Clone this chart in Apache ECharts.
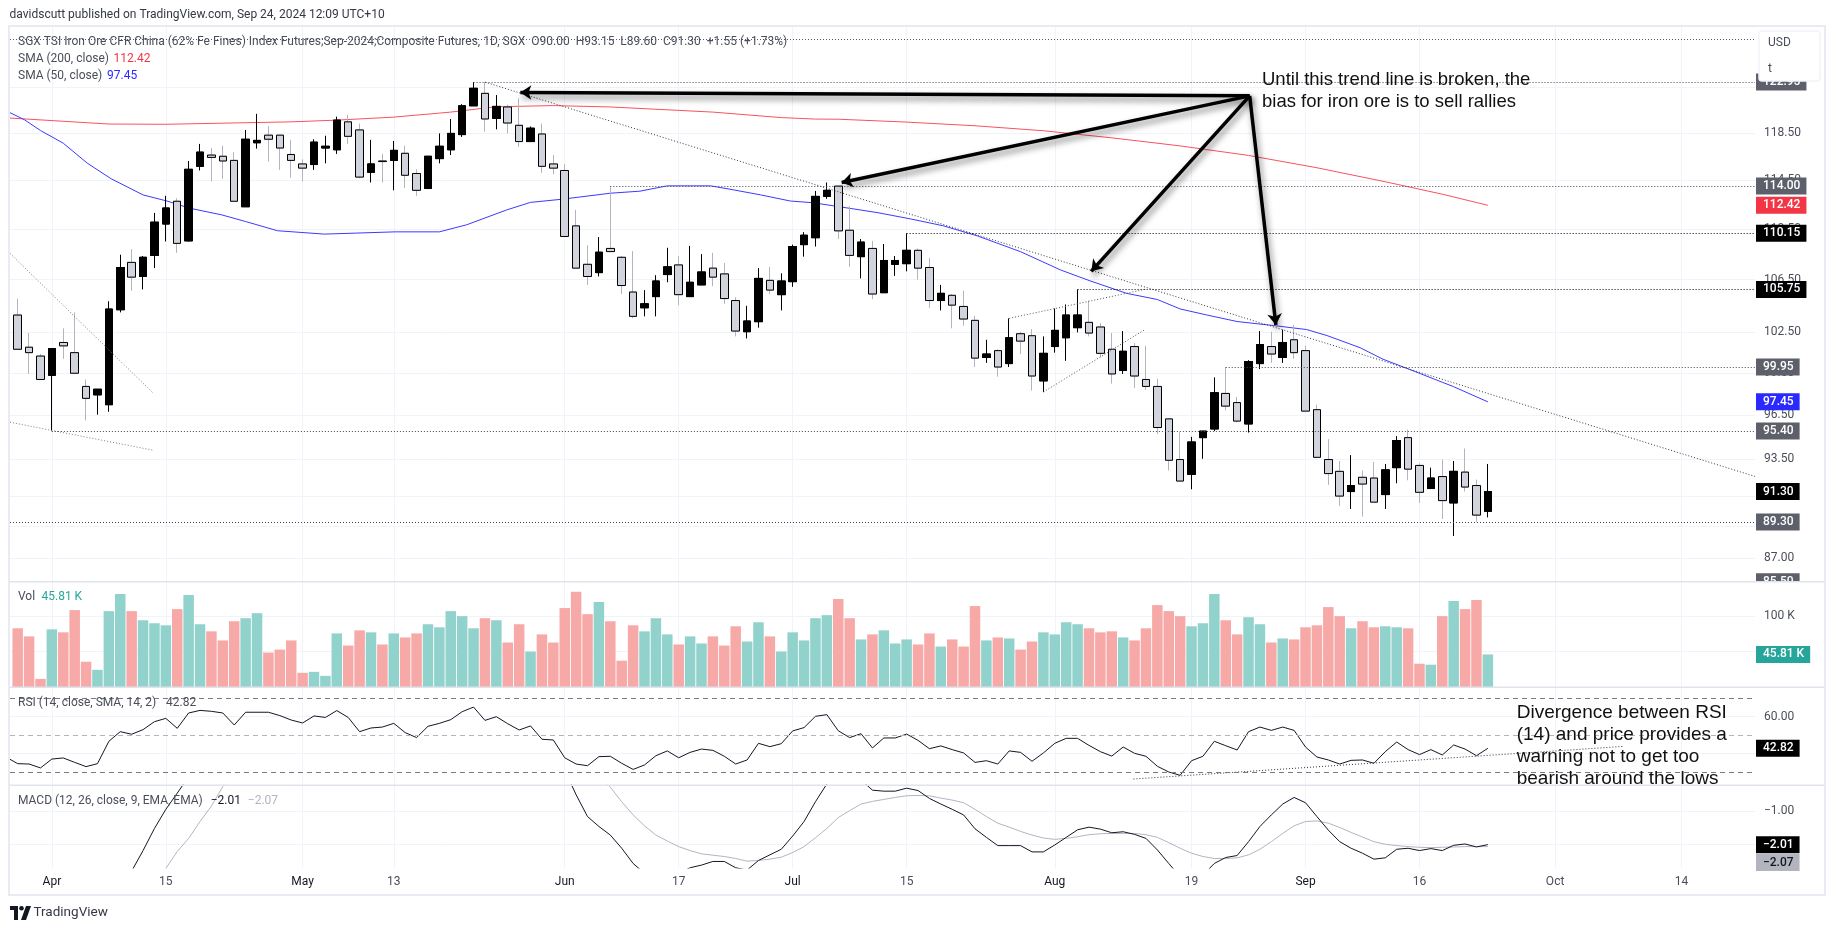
<!DOCTYPE html>
<html>
<head>
<meta charset="utf-8">
<title>SGX TSI Iron Ore</title>
<script src="https://cdn.jsdelivr.net/npm/echarts@6/dist/echarts.min.js"></script>
<style>
  html, body { margin: 0; height: 100%; background: #fff; }
  #chart { width: 1835px; height: 931px; }
</style>
</head>
<body>
<div id="chart"></div>
<script>
// daily bars, Mar 27 to Sep 24 2024
const opens = [
  103.8,101.4,100.75,99.35,101.75,101,98.55,97.95,97.25,104.2,
  107.85,106.75,108.4,110.9,112.75,109.55,115.65,116.6,116.5,116.15,
  112.3,117.65,118.3,118.3,116.65,115.85,115.8,117.2,117.05,119.45,
  118.75,115.15,116.1,116.15,116.75,115.05,113.8,116.3,117.05,118.35,
  120.85,121.95,119.75,120.75,119.15,117.75,118.4,115.85,115.3,110.75,
  107.7,107.05,108.95,108.25,105.55,104.35,105.2,106.9,107.65,105.2,
  106.1,107.4,106.95,104.9,102.55,103.3,106.45,105.35,106.35,109.25,
  109.8,113.15,114,110.4,108.3,108.95,105.5,107.7,107.75,108.8,
  107.45,104.9,105.3,104.45,103.4,100.65,101.15,100.2,102.4,102.25,
  98.95,101.45,102.1,102.85,103.25,102.9,101.25,99.7,101.45,99.05,
  98.55,96.25,93.45,92.45,94.95,95.55,98.05,97.4,95.9,100.2,
  101.45,100.65,101.95,101.15,96.9,93.45,92.65,91.3,92.25,92.2,
  91.1,92.9,94.95,93.05,91.5,92.3,90.55,92.6,91.7,90
];
const closes = [
  101.25,101,99.05,101.3,101.5,99.5,97.7,98.35,104.25,107.45,
  106.7,108.25,111.05,112.2,109.35,115.4,116.85,116.4,116.1,112.75,
  117.95,117.85,117.95,117.2,116.15,115.5,117.7,117.35,119.6,118.2,
  114.75,115.85,116.05,117,114.9,113.65,116.5,117.35,118.45,120.85,
  122.4,119.7,120.8,119.35,117.75,118.9,115.65,115.5,109.9,107.4,
  106.75,108.65,108.7,106.05,103.7,104.65,106.4,107.5,105.35,106.3,
  107.1,106.7,105.05,102.6,103.35,106.6,105.7,106.4,109.1,110,
  113.15,113.65,110.35,108.4,109.45,105.4,108,108,108.8,107.4,
  104.9,105.45,104.55,103.5,100.6,100.9,99.95,102.1,101.85,99.3,
  100.95,102.65,103.8,103.8,102.45,100.95,99.45,101.1,99.3,98.55,
  95.65,93.4,92,94.65,95.4,98.1,97.15,96.1,100.35,101.6,
  100.9,101.75,101,96.8,93.6,92.5,91,91.7,91.8,90.6,
  92.75,94.75,92.8,91.25,92.2,90.7,92.65,91.6,89.75,91.3
];
const lows = [
  101.25,99.45,99.05,95.4,100.55,99.5,96.15,96.55,96.75,104,
  105.65,105.75,107.4,109.5,108.6,109.5,115.3,114.4,114.6,112.75,
  112.3,117.15,116.05,115.35,114.7,114.4,115.35,115.9,116.7,117.55,
  114.65,114.3,114.3,113.65,113.85,113.2,113.75,115.9,116.6,118.15,
  120.85,118.6,118.8,118.45,117.3,117.75,115.1,115,109.9,107.4,
  106.1,106.75,108.7,105.4,103.55,103.7,103.7,106.3,104.55,105.2,
  106.1,106,104.65,102.2,102.05,102.85,105.4,104.15,105.95,108.3,
  109.1,112.95,109.7,107.5,106.6,105,105.5,106.8,107.15,106.5,
  104.35,104.15,102.8,103,99.95,100.25,99.25,99.95,100.9,98.25,
  98.15,101,100.4,102.5,102.2,100.65,98.75,99.45,98.45,98.3,
  95.2,92.7,92,91.45,93.5,95.4,96.85,96,95.3,99.8,
  100.25,100.25,100.55,96.8,93.6,91.75,90.35,90.15,89.65,90.6,
  90.15,91.85,92.05,90.55,91.5,89.5,88.4,91.3,89.3,89.6
];
const highs = [
  105.05,102.45,100.9,101.3,102.8,104,99.05,98.35,104.85,108.45,
  108.9,108.35,111.8,113.2,113,116.1,117.55,117.2,117.4,116.85,
  118.75,120.15,119.1,118.3,117.9,116.25,117.95,118.25,119.9,120.05,
  119.3,117.9,116.7,117.8,117.4,115.4,116.5,118.45,119.7,121,
  122.95,122.95,121.8,120.95,121.5,119.05,119.3,116.6,115.85,112.05,
  109.2,109.85,114,108.35,108.75,105.7,106.85,109,108.35,109.15,
  108.5,108.6,107.8,105.15,104.5,107.4,107.5,107,109.25,110.25,
  113.6,114.3,114,112.35,109.7,109.55,109.3,108.35,110.15,108.95,
  108.2,106.1,105.4,105.65,103.75,101.95,101.25,103.55,102.55,102.75,
  102.2,104.3,104.6,105.75,104.9,103.2,102.45,102.6,101.7,101.5,
  99.1,96.3,95.35,95,95.4,99.2,99.95,97.8,100.45,102.6,
  102.55,102.7,103.05,101.5,97.25,94.85,93.35,93.75,92.7,93.3,
  93.15,95.05,95.5,93.2,92.9,93.45,93.35,94.2,92.1,93.15
];
// volume in thousands
const volumes = [
  82.7,71.3,11.4,81.2,77,108.3,35.6,24.2,106.9,131.1,
  106.9,94,89.8,86.9,109.7,129.7,88.4,78.4,65.6,92.6,
  96.9,104,48.5,52.7,65.6,20,21.4,15.7,75.5,58.4,
  79.8,77,59.9,75.5,69.8,75.5,88.4,84.1,106.9,99.8,
  82.7,96.9,94,62.7,88.4,49.9,74.1,62.7,111.2,134,
  102.6,119.7,92.6,37.1,86.9,78.4,96.9,74.1,59.9,71.3,
  61.3,71.3,58.4,85.5,64.1,91.2,71.3,49.9,77,65.6,
  96.9,101.2,124,96.9,67,74.1,79.8,61.3,67,59.9,
  75.5,57,67,57,114,65.6,69.8,68.4,52.7,64.1,
  77,74.1,91.2,88.4,82.7,77,78.4,69.8,65.6,82.7,
  115.4,106.9,99.8,85.5,89.8,131.1,94,74.1,98.3,88.4,
  62.7,68.4,67,84.1,86.9,112.6,99.8,82.7,92.6,84.1,
  85.5,84.1,82.7,32.8,31.4,99.8,121.1,109.7,122.6,45.81
];
// rsi starts one bar before the first candle, the line runs in from the left edge
const rsiValues = [
  38,34.5,34.3,32.2,37,37.6,35.2,32.9,34.5,46.6,51.8,
  50.4,52.9,57.2,59,53.6,61.9,63.3,62.8,61.9,55.4,
  62.3,62.3,62.3,60.5,58.1,56.5,60.3,59.5,63.2,59.5,
  51.8,53.8,54.3,56.3,51.3,48.6,54.7,56.3,58.3,62.6,
  65.1,57.9,59.9,56.1,52.7,54.9,47.7,47.3,37.7,34.3,
  33.4,38.3,38.5,34.7,31.4,33.8,38.8,41.4,37.7,40.6,
  42.4,41.7,38.5,34.3,36.5,45.5,43.7,45.3,52.2,54,
  60.1,61,52.3,48.6,50.7,43,48.4,48.4,50.5,47.1,
  42.6,44.1,42.1,40.3,35.2,36.1,34.3,41.4,40.6,35.8,
  40.3,45.5,48.2,48.2,44.4,41,38.6,43.5,40.1,38.5,
  33.1,30,28.2,36.1,38.5,46.6,44.2,41.9,51.8,54.3,
  52.5,54.3,52.5,43.5,38.1,36.5,34.3,36.3,36.5,34.7,
  41,46.2,42.1,39.4,42.1,39.2,44.6,42.4,38.8,42.82
];
// macd runs out of its pane, null where it cannot be read
const macdValues = [
  null,null,null,null,null,null,null,null,null,-3.43,
  -2.81,-2.19,-1.52,-0.94,-0.45,0.05,0.5,null,null,null,
  null,null,null,null,null,null,null,null,null,null,
  null,null,null,null,null,null,null,null,null,null,
  null,null,null,null,null,null,null,null,0.25,-0.5,
  -1.16,-1.46,-1.72,-2.12,-2.58,-2.88,null,null,-2.88,-2.71,
  -2.63,-2.52,-2.52,-2.71,-2.78,-2.49,-2.32,-2.15,-1.75,-1.31,
  -0.71,-0.17,null,null,-0.05,-0.36,-0.39,-0.39,-0.3,-0.37,
  -0.61,-0.78,-0.94,-1.11,-1.53,-1.79,-2.04,-2.04,-2.04,-2.23,
  -2.23,-2.02,-1.79,-1.56,-1.48,-1.54,-1.65,-1.62,-1.7,-1.82,
  -2.17,-2.58,-2.98,null,-2.93,-2.58,-2.4,-2.34,-1.92,-1.46,
  -1.11,-0.78,-0.58,-0.74,-1.16,-1.57,-1.92,-2.12,-2.27,-2.45,
  -2.41,-2.15,-2.12,-2.19,-2.13,-2.19,-2.03,-1.99,-2.08,-2.01
];
const signalValues = [
  null,null,null,null,null,null,null,null,null,null,
  null,null,null,-2.73,-2.22,-1.82,-1.31,-0.84,-0.25,0.3,
  null,null,null,null,null,null,null,null,null,null,
  null,null,null,null,null,null,null,null,null,null,
  null,null,null,null,null,null,null,null,null,null,
  null,0.1,-0.27,-0.71,-1.11,-1.44,-1.72,-1.9,-2.07,-2.19,
  -2.29,-2.33,-2.37,-2.43,-2.51,-2.49,-2.45,-2.39,-2.25,-2.07,
  -1.8,-1.52,-1.19,-0.98,-0.78,-0.7,-0.64,-0.58,-0.53,-0.52,
  -0.53,-0.6,-0.66,-0.74,-0.94,-1.16,-1.36,-1.48,-1.61,-1.72,
  -1.81,-1.85,-1.82,-1.77,-1.71,-1.68,-1.67,-1.67,-1.67,-1.71,
  -1.79,-1.95,-2.12,-2.27,-2.37,-2.43,-2.43,-2.41,-2.32,-2.15,
  -1.92,-1.67,-1.44,-1.31,-1.29,-1.36,-1.49,-1.64,-1.78,-1.92,
  -2,-2.04,-2.07,-2.09,-2.1,-2.09,-2.08,-2.07,-2.07,-2.07
];
// moving averages, [bar, price] read at the bends of each curve
const sma200 = [
  [-1,119.8],[8,119.26],[13,119.24],[24,119.45],[28,119.6],[33,119.86],[38,120.3],[42,120.77],
  [47,120.87],[52,120.75],[58,120.45],[61,120.3],[67,119.82],[70,119.69],[72,119.68],[78,119.43],
  [84,119.11],[90,118.68],[96,118.07],[102,117.38],[108,116.57],[114,115.53],[120,114.36],[125,113.33],[129,112.42]
];
const sma50 = [
  [-0.7,120.26],[0.6,119.63],[2,118.7],[4,117.61],[6.1,115.92],[8.2,114.61],[11,113.27],[13.1,112.77],
  [15.1,112.18],[17.9,111.64],[20,111.1],[22.8,110.36],[26.9,110.09],[29.7,110.17],[33.1,110.27],[37,110.27],
  [39.4,110.84],[42.9,112.04],[45,112.66],[47.7,112.91],[52,113.41],[54.6,113.58],[57,114.02],[60.8,114.02],
  [62.8,113.69],[65.2,113.27],[67.8,112.77],[69.8,112.63],[72.4,112.26],[75.4,111.83],[78.3,111.32],[81.2,110.76],
  [84.2,109.95],[88,108.69],[91.5,107.26],[94.1,106.41],[97.3,105.45],[100,104.98],[102,104.26],[104.3,103.81],
  [107,103.31],[110.2,103.01],[113.1,102.71],[114.9,102.26],[117.8,101.36],[119.8,100.52],[121.9,99.85],[126,98.53],[129,97.45]
];

// axis ticks
const timeTicks = [3, 13, 25, 33, 48, 58, 68, 78, 91, 103, 113, 123, 134.9, 146];
const timeLabels = ['Apr', '15', 'May', '13', 'Jun', '17', 'Jul', '15', 'Aug', '19', 'Sep', '16', 'Oct', '14'];
const monthLabels = ['Apr', 'May', 'Jun', 'Jul', 'Aug', 'Sep', 'Oct'];
const priceTicks = [122.5, 118.5, 114.5, 110.5, 106.5, 102.5, 99.5, 96.5, 93.5, 91, 89, 87];
const volTicks = [100, 50];
const rsiTicks = [60, 40];
const macdTicks = [-1, -2];
const rsiBands = [70, 50, 30];

const X_MIN = -0.675;
const X_MAX = 152.44;

// horizontal levels drawn on the chart: price, bar they start from
const greyLevels = [[122.95, 40], [114, 52], [99.95, 106], [95.4, 3], [89.3, X_MIN]];
const blackLevels = [[110.15, 78], [105.75, 93]];
const topLevel = 126.83;

// trend lines, [bar, value]
const trendMain = [[41, 122.95], [152.44, 92.31]];
const trendLeftUpper = [[-0.68, 108.56], [11.84, 98.11]];
const trendLeftLower = [[-0.68, 96.02], [11.84, 94.09]];
const channelUpper = [[87, 103.55], [98.93, 105.76]];
const channelLower = [[90, 98.15], [98.87, 102.69]];
const trendRsi = [[97.9, 26.2], [140.9, 43.84]];

// arrows from the note to the touches of the trend line
const arrowFrom = [108.1, 121.73];
const arrowTargets = [[44.1, 122.03], [72.3, 114.3], [94.2, 107.15], [110.4, 103.06]];

const UP_COLOR = '#000000';
const DOWN_COLOR = '#d1d4dc';
const WICK_DOWN = '#b2b5be';
const GRID_COLOR = '#f0f3fa';
const PANE_COLOR = '#e0e3eb';
const TEXT_COLOR = '#4a4e5a';
const UI_FONT = 'Roboto, sans-serif';
const NOTE_FONT = '"Liberation Sans", Arial, sans-serif';

const LAST = opens.length - 1;

const chart = echarts.init(document.getElementById('chart'), null, { renderer: 'canvas' });

const panes = [
  { top: 26, bottom: 349 },
  { top: 582, bottom: 244 },
  { top: 687, bottom: 146 },
  { top: 785, bottom: 63 }
];

function xAxisFor(gridIndex, showLabels) {
  return {
    type: 'value',
    gridIndex: gridIndex,
    min: X_MIN,
    max: X_MAX,
    axisLine: { show: false },
    axisTick: { show: false, customValues: timeTicks },
    splitLine: { show: true, lineStyle: { color: GRID_COLOR, width: 1 } },
    axisLabel: {
      show: showLabels,
      customValues: timeTicks,
      margin: 8,
      hideOverlap: false,
      fontFamily: UI_FONT,
      fontSize: 12,
      formatter: function (value) {
        const label = timeLabels[timeTicks.indexOf(value)];
        return monthLabels.indexOf(label) >= 0 && value < 130 ? '{m|' + label + '}' : '{d|' + label + '}';
      },
      rich: {
        m: { color: '#131722', fontFamily: UI_FONT, fontSize: 12 },
        d: { color: TEXT_COLOR, fontFamily: UI_FONT, fontSize: 12 }
      }
    }
  };
}

function yAxisFor(gridIndex, ticks, min, max, format, extra) {
  return Object.assign({
    type: 'value',
    gridIndex: gridIndex,
    position: 'right',
    min: min,
    max: max,
    axisLine: { show: false },
    axisTick: { show: false, customValues: ticks },
    splitLine: { show: true, lineStyle: { color: GRID_COLOR, width: 1 } },
    axisLabel: {
      customValues: ticks,
      margin: 9,
      color: TEXT_COLOR,
      fontFamily: UI_FONT,
      fontSize: 12,
      hideOverlap: false,
      formatter: format
    }
  }, extra || {});
}

// value tag in the axis strip, with or without a line leading to it
function tag(bar, value, text, color, lineStyle, offsetY, textColor) {
  const label = {
    show: text !== '',
    position: 'end',
    distance: 1,
    formatter: text,
    color: textColor || '#ffffff',
    backgroundColor: color,
    padding: [3, 6, 2, 7],
    fontFamily: UI_FONT,
    fontSize: 12,
    fontWeight: 500,
    offset: [0, offsetY || 0]
  };
  return [
    { coord: [bar, value], label: label, lineStyle: lineStyle },
    { coord: [X_MAX, value], label: label, lineStyle: lineStyle }
  ];
}

const noLine = { color: 'rgba(0,0,0,0)', width: 0 };
const dots = function (color) { return { color: color, type: [1, 2], width: 1 }; };

const fmt2 = function (v) { return v.toFixed(2).replace('-', '\u2212'); };

const wickRows = opens.map(function (o, i) { return [i, o, closes[i], lows[i], highs[i]]; });
// second layer: only the bodies, so that falling bars get a black border and a grey wick
const bodyRows = opens.map(function (o, i) {
  return [i, o, closes[i], Math.min(o, closes[i]), Math.max(o, closes[i])];
});

const lineBase = { type: 'line', showSymbol: false, symbol: 'none', silent: true, animation: false };

function trend(points, xIdx, color) {
  return Object.assign({}, lineBase, {
    xAxisIndex: xIdx,
    yAxisIndex: xIdx,
    z: 4,
    data: points,
    lineStyle: { color: color, width: 1, type: [1, 2] }
  });
}

const arrowStyle = {
  color: '#000000',
  width: 3.5,
  type: 'solid',
  shadowColor: 'rgba(0,0,0,0.5)',
  shadowBlur: 6,
  shadowOffsetX: 2,
  shadowOffsetY: 4
};

const series = [
  // averages sit behind the candles
  Object.assign({}, lineBase, { data: sma200, z: 2, lineStyle: { color: '#f7525f', width: 1 } }),
  Object.assign({}, lineBase, { data: sma50, z: 2, lineStyle: { color: '#3a3aff', width: 1 } }),
  {
    type: 'candlestick',
    silent: true,
    z: 3,
    barWidth: 8,
    data: wickRows,
    itemStyle: { color: UP_COLOR, color0: DOWN_COLOR, borderColor: UP_COLOR, borderColor0: WICK_DOWN, borderWidth: 1 }
  },
  {
    type: 'candlestick',
    silent: true,
    z: 3,
    barWidth: 8,
    data: bodyRows,
    itemStyle: { color: UP_COLOR, color0: DOWN_COLOR, borderColor: UP_COLOR, borderColor0: '#000000', borderWidth: 1 },
    markLine: {
      silent: true,
      animation: false,
      symbol: 'none',
      data: [
        tag(X_MIN, topLevel, '', 'transparent', dots('#555861')),
        tag(LAST, 112.42, '112.42', '#f23645', noLine),
        tag(LAST, 97.45, '97.45', '#2a2aff', noLine),
        tag(LAST, 85.5, '85.50', '#5d606b', noLine)
      ].concat(greyLevels.map(function (l) {
        return tag(l[1], l[0], l[0].toFixed(2), '#5d606b', dots('#434651'));
      })).concat(blackLevels.map(function (l) {
        return tag(l[1], l[0], l[0].toFixed(2), '#000000', dots('#000000'));
      })).concat([tag(LAST, closes[LAST], closes[LAST].toFixed(2), '#000000', noLine)])
    }
  },
  trend(trendMain, 0, '#333640'),
  trend(trendLeftUpper, 0, '#787b86'),
  trend(trendLeftLower, 0, '#787b86'),
  trend(channelUpper, 0, '#50535e'),
  trend(channelLower, 0, '#50535e'),
  // the arrows hang on an empty series so that they are placed by the axes
  Object.assign({}, lineBase, {
    z: 6,
    data: [],
    markLine: {
      silent: true,
      animation: false,
      symbol: ['none', 'arrow'],
      symbolSize: 11,
      label: { show: false },
      lineStyle: arrowStyle,
      data: arrowTargets.map(function (t) {
        return [{ coord: arrowFrom }, { coord: t }];
      })
    }
  }),
  // volume
  {
    type: 'bar',
    silent: true,
    xAxisIndex: 1,
    yAxisIndex: 1,
    barWidth: 10.5,
    animation: false,
    data: volumes.map(function (v, i) {
      return {
        value: [i, v],
        itemStyle: { color: closes[i] >= opens[i] ? '#92d2cc' : '#f7a9a7' }
      };
    }),
    markLine: {
      silent: true,
      animation: false,
      symbol: 'none',
      data: [tag(LAST, volumes[LAST], '45.81 K', '#26a69a', noLine)]
    }
  },
  // rsi
  Object.assign({}, lineBase, {
    xAxisIndex: 2,
    yAxisIndex: 2,
    data: rsiValues.map(function (v, i) { return [i - 1, v]; }),
    lineStyle: { color: '#131722', width: 1 },
    markLine: {
      silent: true,
      animation: false,
      symbol: 'none',
      data: rsiBands.map(function (b) {
        return tag(X_MIN, b, '', 'transparent', {
          color: b === 50 ? '#b2b5be' : '#787b86', type: [5, 4], width: 1
        });
      }).concat([tag(LAST, 42.82, '42.82', '#000000', noLine)])
    }
  }),
  trend(trendRsi, 2, '#333333'),
  // macd
  Object.assign({}, lineBase, {
    xAxisIndex: 3,
    yAxisIndex: 3,
    data: signalValues.map(function (v, i) { return [i, v]; }),
    lineStyle: { color: '#b2b5be', width: 1 },
    markLine: {
      silent: true,
      animation: false,
      symbol: 'none',
      data: [tag(LAST, -2.07, '\u22122.07', '#b2b5be', noLine, 16, '#131722')]
    }
  }),
  Object.assign({}, lineBase, {
    xAxisIndex: 3,
    yAxisIndex: 3,
    data: macdValues.map(function (v, i) { return [i, v]; }),
    lineStyle: { color: '#131722', width: 1 },
    markLine: {
      silent: true,
      animation: false,
      symbol: 'none',
      data: [tag(LAST, -2.01, '\u22122.01', '#000000', noLine)]
    }
  })
];

function text(str, x, y, color, size, font, weight) {
  return {
    type: 'text',
    z: 50,
    silent: true,
    style: {
      text: str,
      x: x,
      y: y,
      fill: color,
      font: (weight || 'normal') + ' ' + size + 'px ' + font,
      verticalAlign: 'middle'
    }
  };
}

function rule(x1, y1, x2, y2, color, width) {
  return {
    type: 'line',
    z: 40,
    silent: true,
    shape: { x1: x1, y1: y1, x2: x2, y2: y2 },
    style: { stroke: color, lineWidth: width }
  };
}

const graphics = [
  // covers for tags that run under the pane border and the currency box
  { type: 'rect', z: 30, silent: true, shape: { x: 1756, y: 582, width: 69, height: 12 }, style: { fill: '#ffffff' } },
  {
    type: 'rect', z: 31, silent: true,
    shape: { x: 1759, y: 31, width: 61, height: 50, r: 3 },
    style: { fill: '#ffffff', stroke: GRID_COLOR, lineWidth: 1.5 }
  },
  rule(9, 581.7, 1825, 581.7, PANE_COLOR, 1.5),
  rule(9, 687.3, 1825, 687.3, PANE_COLOR, 1.5),
  rule(9, 785.3, 1825, 785.3, PANE_COLOR, 1.5),
  {
    type: 'rect', z: 41, silent: true,
    shape: { x: 9, y: 26, width: 1816, height: 869 },
    style: { fill: 'none', stroke: '#e9eaf2', lineWidth: 2 }
  },
  text('USD', 1768, 43, TEXT_COLOR, 12, UI_FONT),
  text('t', 1768, 69, TEXT_COLOR, 12, UI_FONT),
  text('davidscutt published on TradingView.com, Sep 24, 2024 12:09 UTC+10', 9.5, 15, '#333844', 12, UI_FONT),
  text('SGX TSI Iron Ore CFR China (62% Fe Fines) Index Futures;Sep-2024;Composite Futures, 1D, SGX  O90.00  H93.15  L89.60  C91.30  +1.55 (+1.73%)', 18, 41.5, TEXT_COLOR, 12, UI_FONT),
  text('SMA (200, close)', 18, 58.7, TEXT_COLOR, 12, UI_FONT),
  text('112.42', 113.5, 58.7, '#f23645', 12, UI_FONT),
  text('SMA (50, close)', 18, 76, TEXT_COLOR, 12, UI_FONT),
  text('97.45', 107, 76, '#2a2aff', 12, UI_FONT),
  text('Vol', 18, 596.7, TEXT_COLOR, 12, UI_FONT),
  text('45.81 K', 41.5, 596.7, '#26a69a', 12, UI_FONT),
  text('RSI (14, close, SMA, 14, 2)', 18, 702.7, TEXT_COLOR, 12, UI_FONT),
  text('42.82', 166, 702.7, TEXT_COLOR, 12, UI_FONT),
  text('MACD (12, 26, close, 9, EMA, EMA)', 18, 800.7, TEXT_COLOR, 12, UI_FONT),
  text('\u22122.01', 210.7, 800.7, '#131722', 12, UI_FONT),
  text('\u22122.07', 247.8, 800.7, '#b2b5be', 12, UI_FONT),
  text('Until this trend line is broken, the', 1262, 80, '#111111', 18.5, NOTE_FONT),
  text('bias for iron ore is to sell rallies', 1262, 102, '#111111', 18.5, NOTE_FONT),
  text('Divergence between RSI', 1516.7, 712.7, '#111111', 19, NOTE_FONT),
  text('(14) and price provides a', 1516.7, 734.8, '#111111', 19, NOTE_FONT),
  text('warning not to get too', 1516.7, 756.7, '#111111', 19, NOTE_FONT),
  text('bearish around the lows', 1516.7, 778.7, '#111111', 19, NOTE_FONT),
  // footer logo
  { type: 'polygon', z: 50, silent: true, shape: { points: [[10, 906], [18, 906], [18, 920], [14, 920], [14, 910], [10, 910]] }, style: { fill: '#131722' } },
  { type: 'polygon', z: 50, silent: true, shape: { points: [[26, 906], [31, 906], [26, 920], [21, 920]] }, style: { fill: '#131722' } },
  { type: 'circle', z: 50, silent: true, shape: { cx: 21.5, cy: 908.2, r: 2.3 }, style: { fill: '#131722' } },
  text('TradingView', 33.5, 913, '#333844', 13.5, UI_FONT)
];

chart.setOption({
  animation: false,
  backgroundColor: '#ffffff',
  grid: panes.map(function (p) {
    return { left: 10, right: 80, top: p.top, bottom: p.bottom, containLabel: false };
  }),
  xAxis: [xAxisFor(0, false), xAxisFor(1, false), xAxisFor(2, false), xAxisFor(3, true)],
  yAxis: [
    yAxisFor(0, priceTicks, 85.49, 128.07, function (v) { return v.toFixed(2); }, { type: 'log', logBase: Math.E }),
    yAxisFor(1, volTicks, 0, 147.9, function (v) { return v + ' K'; }),
    yAxisFor(2, rsiTicks, 22.97, 75.95, fmt2),
    yAxisFor(3, macdTicks, -2.718, -0.203, fmt2)
  ],
  series: series,
  graphic: graphics
});

window.addEventListener('resize', function () { chart.resize(); });
</script>
</body>
</html>
